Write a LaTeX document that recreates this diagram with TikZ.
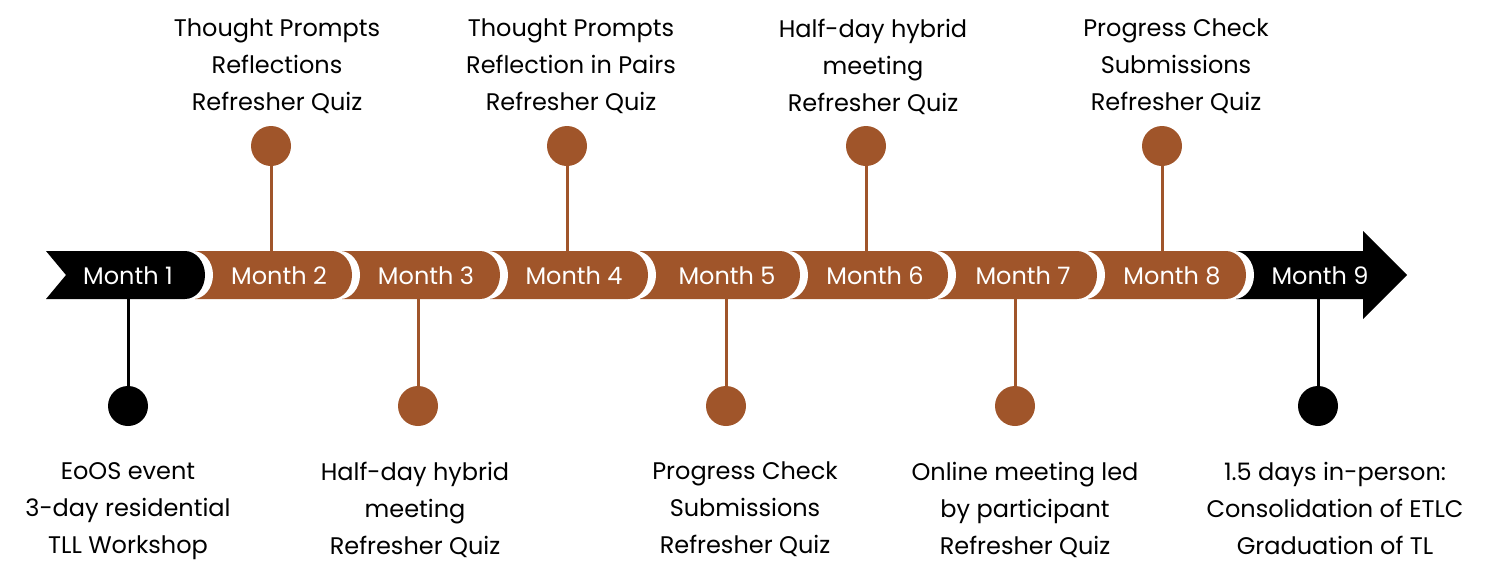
\documentclass[tikz,border=0pt]{standalone}
\usepackage{fontspec}
\setmainfont{Poppins}
\definecolor{brn}{HTML}{A0552A}
\begin{document}
\begin{tikzpicture}[x=1pt,y=-1pt,
  mlab/.style={text=white,font=\fontsize{24}{28}\selectfont,inner sep=0},
  lab/.style={align=center,font=\fontsize{24}{37}\selectfont,inner sep=0,anchor=north},
  pin/.style={circle,minimum size=40,inner sep=0}]
\useasboundingbox (0,0) rectangle (1496,579);
% segment 9 arrow
\fill (1236,251) -- (1363,251) -- (1363,231) -- (1407,275) -- (1363,319) -- (1363,299) -- (1236,299) -- cycle;
% segments 8..2
\foreach \xl/\xr in {1088/1246,938/1097,790/948,640/800,490/648,342/500,195/352}{
  \fill[white] (\xl+8,251) -- (\xr-12,251) arc[start angle=-90,end angle=90,x radius=20,y radius=24] -- (\xl+8,299) -- cycle;
  \fill[brn] (\xl,251) -- (\xr-20,251) arc[start angle=-90,end angle=90,x radius=20,y radius=24] -- (\xl,299) -- cycle;
}
\fill[white] (54,251) -- (193,251) arc[start angle=-90,end angle=90,x radius=20,y radius=24] -- (54,299) -- cycle;
\fill (46,251) -- (185,251) arc[start angle=-90,end angle=90,x radius=20,y radius=24] -- (46,299) -- (66,275) -- cycle;
% month labels
\foreach \x [count=\i] in {128,279,426,574,727,875,1023,1172,1320}
  \node[mlab] (m\i) at (\x,276) {Month \i};
% top pins
\foreach \x/\n in {271/a,567/b,866/c,1162/d}{
  \node[pin,fill=brn] (p\n) at (\x,146) {};
  \coordinate (s\n) at (\x,251);
  \draw[brn,line width=3] (p\n) -- (s\n);
}
% bottom pins
\foreach \x/\n/\c in {128/e/black,418/f/brn,726/g/brn,1015/h/brn,1318/i/black}{
  \node[pin,fill=\c] (p\n) at (\x,406) {};
  \coordinate (s\n) at (\x,299);
  \draw[\c,line width=3] (s\n) -- (p\n);
}
% labels
\node[lab] (ta) at (277,19) {Thought Prompts\\Reflections\\Refresher Quiz};
\node[lab] (tb) at (571,19) {Thought Prompts\\Reflection in Pairs\\Refresher Quiz};
\node[lab] (tc) at (873,19) {Half-day hybrid\\meeting\\Refresher Quiz};
\node[lab] (td) at (1176,19) {Progress Check\\Submissions\\Refresher Quiz};
\node[lab] (te) at (128,462) {EoOS event\\3-day residential\\TLL Workshop};
\node[lab] (tf) at (415,462) {Half-day hybrid\\meeting\\Refresher Quiz};
\node[lab] (tg) at (745,462) {Progress Check\\Submissions\\Refresher Quiz};
\node[lab] (th) at (1025,462) {Online meeting led\\by participant\\Refresher Quiz};
\node[lab] (ti) at (1335,462) {1.5 days in-person:\\Consolidation of ETLC\\Graduation of TL};
\end{tikzpicture}
\end{document}
